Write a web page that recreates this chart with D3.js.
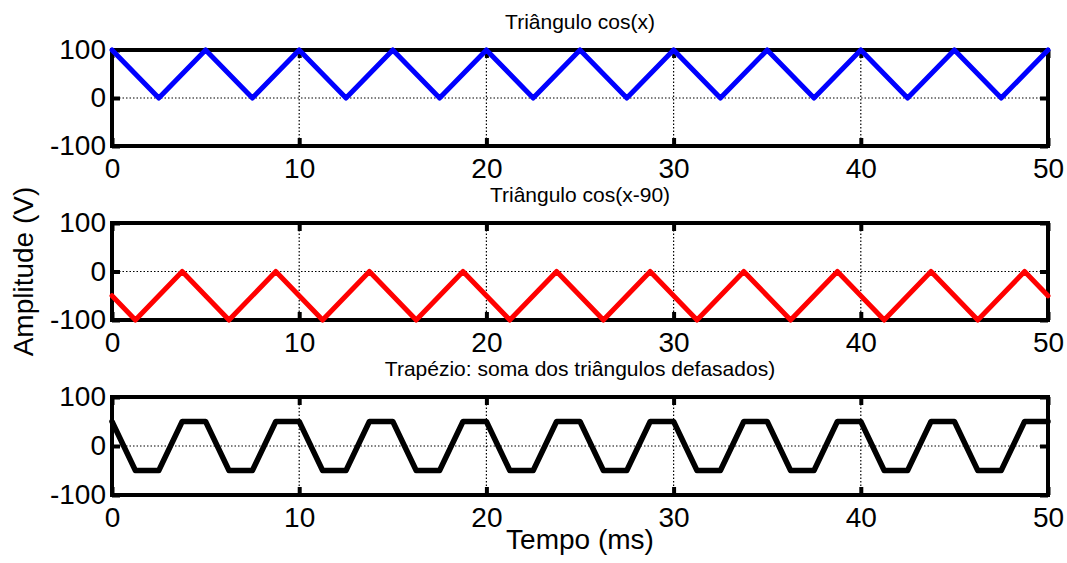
<!DOCTYPE html>
<html>
<head>
<meta charset="utf-8">
<script src="https://cdn.jsdelivr.net/npm/d3@7"></script>
<style>
	body { margin: 0; background: #fff; }
	svg { display: block; font-family: "Liberation Sans", Arial, sans-serif; }
</style>
</head>
<body>
<div class="plotWin"></div>
<script>

// ---------- data ---------- //
var xTicks = [0, 10, 20, 30, 40, 50],
	yTicks = [-100, 0, 100];

var titles = ["Triângulo cos(x)", "Triângulo cos(x-90)", "Trapézio: soma dos triângulos defasados)"];

var triCosX = [0, 2.5, 5, 7.5, 10, 12.5, 15, 17.5, 20, 22.5, 25, 27.5, 30, 32.5, 35, 37.5, 40, 42.5, 45, 47.5, 50];
var triCosY = [100, 0, 100, 0, 100, 0, 100, 0, 100, 0, 100, 0, 100, 0, 100, 0, 100, 0, 100, 0, 100];

var triSinX = [0, 1.25, 3.75, 6.25, 8.75, 11.25, 13.75, 16.25, 18.75, 21.25, 23.75, 26.25, 28.75, 31.25, 33.75, 36.25, 38.75, 41.25, 43.75, 46.25, 48.75, 50];
var triSinY = [-50, -100, 0, -100, 0, -100, 0, -100, 0, -100, 0, -100, 0, -100, 0, -100, 0, -100, 0, -100, 0, -50];

var trapX = [0, 1.25, 2.5, 3.75, 5, 6.25, 7.5, 8.75, 10, 11.25, 12.5, 13.75, 15, 16.25, 17.5, 18.75, 20,
	21.25, 22.5, 23.75, 25, 26.25, 27.5, 28.75, 30, 31.25, 32.5, 33.75, 35, 36.25, 37.5, 38.75, 40,
	41.25, 42.5, 43.75, 45, 46.25, 47.5, 48.75, 50];
var trapY = [50, -50, -50, 50, 50, -50, -50, 50, 50, -50, -50, 50, 50, -50, -50, 50, 50,
	-50, -50, 50, 50, -50, -50, 50, 50, -50, -50, 50, 50, -50, -50, 50, 50,
	-50, -50, 50, 50, -50, -50, 50, 50];

var series = [
	{x: triCosX, y: triCosY, color: "#0000ff", w: 5},
	{x: triSinX, y: triSinY, color: "#ff0000", w: 5},
	{x: trapX, y: trapY, color: "#000000", w: 5.5}
];

// ---------- layout ---------- //
var SVG_WIDTH = 1067,
	SVG_HEIGHT = 563,
	LEFT = 112,
	RIGHT = 1048,
	TOPS = [50, 223, 397],
	BOTTOMS = [146, 320, 495],
	TICK = 8,
	BIG_FONT = 28,
	TITLE_FONT = 21;

var svg = d3.select(".plotWin")
	.append("svg")
		.attr("width", SVG_WIDTH)
		.attr("height", SVG_HEIGHT);

var x = d3.scaleLinear().domain([0, 50]).range([LEFT, RIGHT]);

// plain hyphen for negatives, like the original
var plainFmt = function(d) {return String(d);};

series.forEach(function(s, i) {
	var top = TOPS[i], bottom = BOTTOMS[i];
	var y = d3.scaleLinear().domain([-100, 100]).range([bottom, top]);
	var g = svg.append("g").attr("class", "panel");

	// dotted grid
	g.selectAll(".gx")
		.data(xTicks)
		.enter()
		.append("line")
			.attr("x1", function(d) {return x(d);})
			.attr("x2", function(d) {return x(d);})
			.attr("y1", top)
			.attr("y2", bottom)
			.attr("stroke", "#000")
			.attr("stroke-width", 1.2)
			.attr("stroke-dasharray", "1.5,2");

	g.selectAll(".gy")
		.data(yTicks)
		.enter()
		.append("line")
			.attr("x1", LEFT)
			.attr("x2", RIGHT)
			.attr("y1", function(d) {return y(d);})
			.attr("y2", function(d) {return y(d);})
			.attr("stroke", "#000")
			.attr("stroke-width", 1.2)
			.attr("stroke-dasharray", "1.5,2");

	// axes, ticks pointing inward
	var ax = [
		{axis: d3.axisBottom(x).tickValues(xTicks).tickFormat(plainFmt).tickPadding(12), t: "translate(0," + bottom + ")"},
		{axis: d3.axisTop(x).tickValues(xTicks).tickFormat(""), t: "translate(0," + top + ")"},
		{axis: d3.axisLeft(y).tickValues(yTicks).tickFormat(plainFmt).tickPadding(6), t: "translate(" + LEFT + ",0)"},
		{axis: d3.axisRight(y).tickValues(yTicks).tickFormat(""), t: "translate(" + RIGHT + ",0)"}
	];
	ax.forEach(function(a) {
		var ag = g.append("g")
			.attr("transform", a.t)
			.call(a.axis.tickSizeInner(-TICK).tickSizeOuter(0));
		ag.select(".domain").remove();
		ag.selectAll(".tick line").attr("stroke", "#000").attr("stroke-width", 4);
		ag.selectAll(".tick text")
			.attr("fill", "#000")
			.style("font-size", BIG_FONT + "px")
			.style("font-family", "'Liberation Sans', Arial, sans-serif");
	});

	// box
	g.append("rect")
		.attr("x", LEFT)
		.attr("y", top)
		.attr("width", RIGHT - LEFT)
		.attr("height", bottom - top)
		.attr("fill", "none")
		.attr("stroke", "#000")
		.attr("stroke-width", 4);

	// title
	g.append("text")
		.attr("x", (LEFT + RIGHT) / 2)
		.attr("y", top - 21)
		.attr("text-anchor", "middle")
		.attr("font-size", TITLE_FONT)
		.attr("fill", "#000")
		.text(titles[i]);

	// trace
	var pts = s.x.map(function(d, j) {return [d, s.y[j]];});
	var line = d3.line()
		.x(function(d) {return x(d[0]);})
		.y(function(d) {return y(d[1]);});
	g.append("path")
		.datum(pts)
		.attr("d", line)
		.attr("fill", "none")
		.attr("stroke", s.color)
		.attr("stroke-width", s.w)
		.attr("stroke-linejoin", "round")
		.attr("stroke-linecap", "round");
});

// axis labels
svg.append("text")
	.attr("x", (LEFT + RIGHT) / 2)
	.attr("y", 549)
	.attr("text-anchor", "middle")
	.attr("font-size", BIG_FONT)
	.attr("fill", "#000")
	.text("Tempo (ms)");

svg.append("text")
	.attr("transform", "translate(33," + ((TOPS[1] + BOTTOMS[1]) / 2) + ") rotate(-90)")
	.attr("text-anchor", "middle")
	.attr("font-size", BIG_FONT)
	.attr("fill", "#000")
	.text("Amplitude (V)");

</script>
</body>
</html>
